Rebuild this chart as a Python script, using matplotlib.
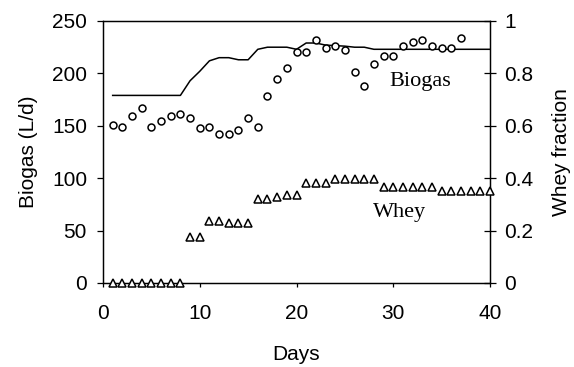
import matplotlib
matplotlib.use("Agg")
import matplotlib.pyplot as plt

# Biogas production (L/d), circles, days 1..37
biogas_days = list(range(1, 38))
biogas = [151, 149, 159, 167, 149, 155, 159, 161, 157, 148, 149, 142, 142, 146, 157, 149,
          178, 195, 205, 220, 220, 232, 224, 226, 222, 201, 188, 209, 217, 217, 226, 230,
          232, 226, 224, 224, 234]

# Smoothed biogas line (L/d), days 1..40
line_days = list(range(1, 41))
line_vals = [179, 179, 179, 179, 179, 179, 179, 179, 193, 202, 212, 215, 215, 213, 213, 223,
             225, 225, 225, 223, 229, 229, 227, 226.5, 226, 225, 225, 223, 223, 223, 223, 223,
             223, 223, 223, 223, 223, 223, 223, 223]

# Whey fraction, triangles, days 1..40
whey_days = list(range(1, 41))
whey = [0, 0, 0, 0, 0, 0, 0, 0, 0.174, 0.174, 0.236, 0.236, 0.228, 0.228, 0.228,
        0.32, 0.32, 0.327, 0.335, 0.335, 0.38, 0.38, 0.38, 0.396, 0.396, 0.396, 0.396, 0.396,
        0.368, 0.368, 0.368, 0.368, 0.368, 0.368, 0.352, 0.352, 0.352, 0.352, 0.352, 0.352]

x_ticks = [0, 10, 20, 30, 40]
left_ticks = [0, 50, 100, 150, 200, 250]
right_ticks = [0, 0.2, 0.4, 0.6, 0.8, 1]
right_labels = ["0", "0.2", "0.4", "0.6", "0.8", "1"]

plt.rcParams['font.family'] = ['Liberation Sans', 'DejaVu Sans']
FS = 15

fig = plt.figure(figsize=(5.74, 3.67), dpi=100)
ax = fig.add_axes([103/574, 1 - 283/367, (490-103)/574, (283-21)/367])
ax2 = ax.twinx()

ax.plot(line_days, line_vals, color='black', lw=1.1, zorder=3)
ax.plot(biogas_days, biogas, linestyle='none', marker='o', markersize=5,
        markerfacecolor='white', markeredgecolor='black', markeredgewidth=1.1, zorder=4)
ax2.plot(whey_days, whey, linestyle='none', marker='^', markersize=6,
         markerfacecolor='white', markeredgecolor='black', markeredgewidth=1.1,
         clip_on=False, zorder=4)

ax.set_xlim(0, 40)
ax.set_ylim(0, 250)
ax2.set_ylim(0, 1)
ax.set_xticks(x_ticks)
ax.set_yticks(left_ticks)
ax2.set_yticks(right_ticks)
ax2.set_yticklabels(right_labels)

for a in (ax, ax2):
    for s in a.spines.values():
        s.set_linewidth(0.9)

ax.tick_params(axis='y', direction='out', length=4.5, width=0.9, labelsize=FS, pad=7)
ax.tick_params(axis='x', direction='out', length=3, width=0.9, labelsize=FS, pad=12)
ax2.tick_params(axis='y', direction='inout', length=9, width=0.9, labelsize=FS, pad=6)

ax.set_xlabel('Days', fontsize=FS, labelpad=16)
ax.set_ylabel('Biogas (L/d)', fontsize=FS, labelpad=10)
ax2.set_ylabel('Whey fraction', fontsize=FS, labelpad=13)

ax.text(32.8, 192.7, 'Biogas', fontsize=16, family='Liberation Serif',
        ha='center', va='center')
ax.text(30.6, 66.8, 'Whey', fontsize=16, family='Liberation Serif',
        ha='center', va='center')

fig.savefig('out.png', dpi=100)
